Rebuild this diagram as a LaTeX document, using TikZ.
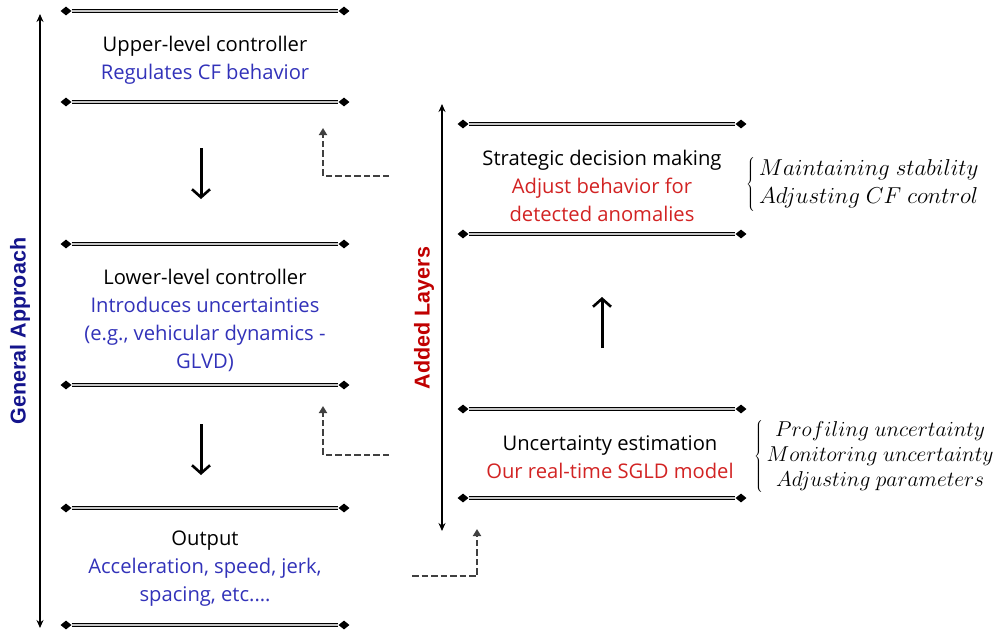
\documentclass[tikz,border=0pt]{standalone}
\usepackage{fix-cm}
\usepackage{fontspec}
\setmainfont{Open Sans}
\newfontfamily\labfont{Liberation Sans}
\usetikzlibrary{arrows.meta,shapes.geometric}
\definecolor{tblue}{RGB}{50,50,185}
\definecolor{gblue}{RGB}{20,20,140}
\definecolor{tred}{RGB}{210,35,35}
\definecolor{lred}{RGB}{192,0,0}
\definecolor{dgray}{RGB}{64,64,64}
\tikzset{
  dia/.style={diamond,fill=black,draw=none,minimum width=11pt,minimum height=9pt,inner sep=0pt},
  dline/.style={draw=black,double=gray!45,line width=1.25pt,double distance=1.6pt},
  txt/.style={align=center,font=\fontsize{20.2}{28}\selectfont,inner sep=0pt},
  mtxt/.style={inner sep=0pt,font=\fontsize{22}{25}\selectfont},
  bigarrow/.style={line width=3pt,-{Straight Barb[length=8pt,width=18pt,line width=2.6pt]}},
  sidearrow/.style={line width=2.1pt,{Stealth[length=8pt,width=7pt]}-{Stealth[length=8pt,width=7pt]}},
  dashconn/.style={draw=dgray,line width=2.6pt,dash pattern=on 6.5pt off 3pt,-{Triangle[length=7pt,width=8pt]}},
  sidelab/.style={rotate=90,inner sep=0pt,font=\labfont\bfseries\fontsize{21.5}{24}\selectfont}
}
\begin{document}
\begin{tikzpicture}[x=1pt,y=-1pt]
\useasboundingbox (0,0) rectangle (993,632);

% left column separators
\foreach \i/\yy in {1/11,2/102,3/244,4/385,5/508,6/625}{
  \node[dia] (la\i) at (66,\yy) {};
  \node[dia] (lb\i) at (344,\yy) {};
  \draw[dline] (la\i) -- (lb\i);
}
% right column separators
\foreach \i/\yy in {1/124,2/234,3/409,4/498}{
  \node[dia] (ra\i) at (463,\yy) {};
  \node[dia] (rb\i) at (741,\yy) {};
  \draw[dline] (ra\i) -- (rb\i);
}

% left texts
\node[txt] (upper) at (205,60) {Upper-level controller\\\textcolor{tblue}{Regulates CF behavior}};
\node[txt] (lower) at (205,320) {Lower-level controller\\\textcolor{tblue}{Introduces uncertainties}\\\textcolor{tblue}{(e.g., vehicular dynamics -}\\\textcolor{tblue}{GLVD)}};
\node[txt] (output) at (205,569) {Output\\\textcolor{tblue}{Acceleration, speed, jerk,}\\\textcolor{tblue}{spacing, etc.\dots}};

% right texts
\node[txt] (strat) at (602,185.5) {Strategic decision making\\\textcolor{tred}{Adjust behavior for}\\\textcolor{tred}{detected anomalies}};
\node[txt] (unc) at (610,457) {Uncertainty estimation\\\textcolor{tred}{Our real-time SGLD model}};

% braces
\node[mtxt,font=\fontsize{23}{28}\selectfont,anchor=west] (br1) at (746,184) {$\left\{\,\begin{array}{@{}c@{}} Maintaining\ stability\\ Adjusting\ CF\ control\end{array}\right.$};
\node[mtxt,font=\fontsize{21.5}{25}\selectfont,anchor=west] (br2) at (754,456) {$\left\{\,\begin{array}{@{}c@{}} Profiling\ uncertainty\\ Monitoring\ uncertainty\\ Adjusting\ parameters\end{array}\right.$};

% down / up arrows
\coordinate (d1s) at (201,148); \coordinate (d1e) at (201,199);
\coordinate (d2s) at (201,424); \coordinate (d2e) at (201,475);
\coordinate (u1s) at (602,348); \coordinate (u1e) at (602,297);
\draw[bigarrow] (d1s) -- (d1e);
\draw[bigarrow] (d2s) -- (d2e);
\draw[bigarrow] (u1s) -- (u1e);

% side arrows and labels
\coordinate (gat) at (40,14); \coordinate (gab) at (40,628);
\draw[sidearrow] (gat) -- (gab);
\node[sidelab,text=gblue] (gal) at (20,331) {General Approach};
\coordinate (alt) at (442,104); \coordinate (alb) at (442,531);
\draw[sidearrow] (alt) -- (alb);
\node[sidelab,text=lred] (all) at (424,318) {Added Layers};

% dashed connectors
\coordinate (c1s) at (389,176); \coordinate (c1e) at (323,128);
\draw[dashconn] (c1s) -| (c1e);
\coordinate (c2s) at (389,455); \coordinate (c2e) at (323,406);
\draw[dashconn] (c2s) -| (c2e);
\coordinate (c3s) at (412,576); \coordinate (c3e) at (477,529);
\draw[dashconn] (c3s) -| (c3e);
\end{tikzpicture}
\end{document}
